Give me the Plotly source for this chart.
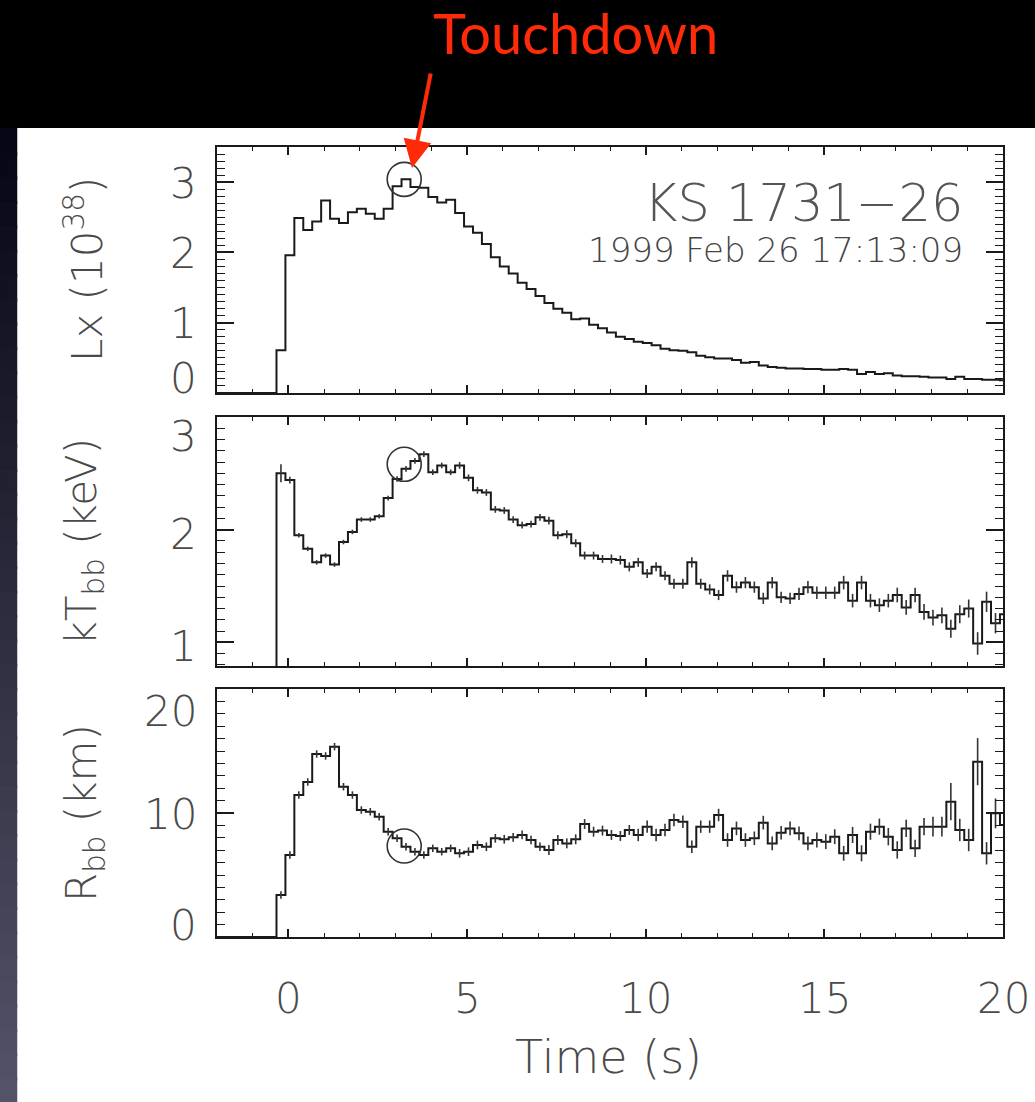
import plotly.graph_objects as go

# ---------------- data ----------------
BIN_START = -0.335   # start of first burst bin (s)
BIN_WIDTH = 0.25     # s

LX = [0.61, 1.96, 2.49, 2.32, 2.44, 2.74, 2.48, 2.42, 2.57, 2.62,
      2.55, 2.48, 2.62, 2.94, 3.04, 2.93, 2.92, 2.79, 2.71, 2.75,
      2.56, 2.37, 2.28, 2.12, 1.93, 1.80, 1.70, 1.57, 1.48, 1.38,
      1.28, 1.20, 1.14, 1.05, 1.06, 0.97, 0.92, 0.86, 0.80, 0.77,
      0.73, 0.71, 0.68, 0.63, 0.61, 0.60, 0.58, 0.53, 0.51, 0.49,
      0.49, 0.47, 0.43, 0.44, 0.39, 0.37, 0.36, 0.35, 0.35, 0.34,
      0.34, 0.33, 0.33, 0.34, 0.33, 0.27, 0.30, 0.27, 0.28, 0.25,
      0.24, 0.24, 0.23, 0.22, 0.22, 0.20, 0.23, 0.20, 0.20, 0.19,
      0.19, 0.18]

KT = [2.50, 2.44, 1.95, 1.83, 1.71, 1.77, 1.69, 1.89, 1.98, 2.09,
      2.09, 2.12, 2.28, 2.45, 2.54, 2.61, 2.67, 2.51, 2.57, 2.51,
      2.57, 2.46, 2.35, 2.33, 2.18, 2.17, 2.09, 2.04, 2.05, 2.11,
      2.08, 1.95, 1.96, 1.88, 1.77, 1.77, 1.74, 1.74, 1.73, 1.67,
      1.71, 1.61, 1.67, 1.59, 1.52, 1.52, 1.71, 1.52, 1.47, 1.42,
      1.59, 1.49, 1.53, 1.49, 1.39, 1.53, 1.40, 1.39, 1.43, 1.49,
      1.44, 1.44, 1.44, 1.53, 1.37, 1.53, 1.37, 1.33, 1.37, 1.42,
      1.31, 1.42, 1.27, 1.22, 1.24, 1.12, 1.25, 1.30, 0.99, 1.36,
      1.17, 1.25]

KT_ERR = [0.08, 0.03, 0.02, 0.02, 0.02, 0.02, 0.02, 0.02, 0.02, 0.02,
          0.02, 0.02, 0.02, 0.025, 0.025, 0.025, 0.025, 0.025, 0.025, 0.025,
          0.03, 0.03, 0.03, 0.03, 0.03, 0.03, 0.03, 0.03, 0.03, 0.03,
          0.035, 0.035, 0.035, 0.035, 0.035, 0.035, 0.035, 0.04, 0.04, 0.04,
          0.04, 0.04, 0.04, 0.04, 0.045, 0.045, 0.045, 0.045, 0.045, 0.045,
          0.05, 0.05, 0.05, 0.05, 0.05, 0.05, 0.05, 0.05, 0.055, 0.055,
          0.055, 0.055, 0.055, 0.06, 0.06, 0.06, 0.06, 0.06, 0.06, 0.065,
          0.065, 0.065, 0.07, 0.07, 0.07, 0.08, 0.08, 0.08, 0.10, 0.09,
          0.09, 0.09]

RBB = [3.39, 6.61, 11.45, 12.5, 14.76, 14.6, 15.35, 12.12, 11.45, 10.24,
       10.1, 9.7, 8.49, 7.96, 7.28, 6.88, 6.61, 7.15, 6.88, 7.15,
       6.75, 6.88, 7.42, 7.28, 7.96, 7.88, 8.04, 8.23, 7.82, 7.28,
       7.02, 7.82, 7.55, 7.88, 9.11, 8.49, 8.58, 8.23, 8.15, 8.63,
       8.23, 8.90, 8.23, 8.63, 9.44, 9.30, 7.28, 8.90, 8.90, 9.84,
       7.82, 8.76, 7.82, 7.96, 9.22, 7.55, 8.41, 8.76, 8.36, 7.55,
       7.82, 7.69, 8.09, 6.75, 8.23, 6.75, 8.49, 8.90, 8.09, 7.02,
       8.76, 7.15, 8.90, 8.90, 8.90, 10.91, 8.63, 7.82, 14.14, 6.75,
       9.97, 9.03]

RBB_ERR = [0.3, 0.3, 0.3, 0.3, 0.3, 0.3, 0.3, 0.3, 0.3, 0.3,
           0.3, 0.3, 0.3, 0.3, 0.3, 0.3, 0.3, 0.3, 0.3, 0.3,
           0.35, 0.35, 0.35, 0.35, 0.35, 0.35, 0.35, 0.35, 0.35, 0.35,
           0.4, 0.4, 0.4, 0.4, 0.4, 0.4, 0.4, 0.4, 0.4, 0.4,
           0.5, 0.5, 0.5, 0.5, 0.5, 0.5, 0.5, 0.5, 0.5, 0.5,
           0.55, 0.55, 0.55, 0.55, 0.55, 0.55, 0.55, 0.55, 0.55, 0.55,
           0.6, 0.6, 0.6, 0.6, 0.65, 0.65, 0.65, 0.65, 0.7, 0.7,
           0.7, 0.7, 0.7, 0.8, 0.8, 1.5, 0.9, 0.9, 1.9, 0.9,
           1.2, 1.0]

TOUCHDOWN_T = 3.24
TOUCHDOWN_LX = 3.04
TOUCHDOWN_KT = 2.58
TOUCHDOWN_R = 7.34

X_TICKS = [0, 5, 10, 15, 20]
LX_TICKS = [0, 1, 2, 3]
KT_TICKS = [1, 2, 3]
R_TICKS = [0, 10, 20]

# ---------------- geometry / style ----------------
W, H = 1035, 1102
FONT = "DejaVu Sans"
TXT = "#4a4a4a"
LINE = "#1a1a1a"


def px_x(p):
    return p / W


def px_y(p):
    return 1 - p / H


PLOT_X = (217, 1003)
PANELS = [(147, 393), (417, 666), (689, 937)]  # top, bottom pixels

starts = [BIN_START + BIN_WIDTH * i for i in range(len(LX))]
end_t = starts[-1] + BIN_WIDTH
centers = [s + BIN_WIDTH / 2 for s in starts]

fig = go.Figure()

# step curves
fig.add_trace(go.Scatter(x=[-2.0] + starts + [end_t], y=[0.0] + LX + [LX[-1]],
                         mode="lines", line=dict(shape="hv", color=LINE, width=2),
                         xaxis="x", yaxis="y", showlegend=False, hoverinfo="skip"))
fig.add_trace(go.Scatter(x=[starts[0]] + starts + [end_t], y=[0.5] + KT + [KT[-1]],
                         mode="lines", line=dict(shape="hv", color=LINE, width=2),
                         xaxis="x2", yaxis="y2", showlegend=False, hoverinfo="skip"))
fig.add_trace(go.Scatter(x=centers, y=KT,
                         mode="markers", marker=dict(size=1, color="rgba(0,0,0,0)"),
                         error_y=dict(type="data", array=KT_ERR, visible=True,
                                      color="#333333", thickness=1.6, width=0),
                         xaxis="x2", yaxis="y2", showlegend=False, hoverinfo="skip"))
fig.add_trace(go.Scatter(x=[-2.0] + starts + [end_t], y=[0.0] + RBB + [RBB[-1]],
                         mode="lines", line=dict(shape="hv", color=LINE, width=2),
                         xaxis="x3", yaxis="y3", showlegend=False, hoverinfo="skip"))
fig.add_trace(go.Scatter(x=centers, y=RBB,
                         mode="markers", marker=dict(size=1, color="rgba(0,0,0,0)"),
                         error_y=dict(type="data", array=RBB_ERR, visible=True,
                                      color="#333333", thickness=1.6, width=0),
                         xaxis="x3", yaxis="y3", showlegend=False, hoverinfo="skip"))


def xaxis_cfg(anchor):
    return dict(domain=[px_x(PLOT_X[0]), px_x(PLOT_X[1])], anchor=anchor,
                range=[-2, 20], showgrid=False, zeroline=False,
                showline=True, linecolor=LINE, linewidth=2, mirror="allticks",
                ticks="inside", ticklen=8, tickwidth=1.5, tickcolor=LINE,
                tick0=0, dtick=5, showticklabels=False,
                minor=dict(ticks="inside", ticklen=4, tickwidth=1.2,
                           tickcolor=LINE, dtick=1, tick0=0))


def yaxis_cfg(anchor, pan, rng, dtick, mdtick):
    return dict(domain=[px_y(pan[1]), px_y(pan[0])], anchor=anchor,
                range=rng, showgrid=False, zeroline=False,
                showline=True, linecolor=LINE, linewidth=2, mirror="allticks",
                ticks="inside", ticklen=17, tickwidth=1.5, tickcolor=LINE,
                tick0=0, dtick=dtick, showticklabels=False,
                minor=dict(ticks="inside", ticklen=8, tickwidth=1.2,
                           tickcolor=LINE, dtick=mdtick, tick0=0))


fig.update_layout(
    width=W, height=H, margin=dict(l=0, r=0, t=0, b=0),
    paper_bgcolor="black", plot_bgcolor="white",
    xaxis=xaxis_cfg("y"), yaxis=yaxis_cfg("x", PANELS[0], [0, 3.5], 1, 0.1),
    xaxis2=xaxis_cfg("y2"), yaxis2=yaxis_cfg("x2", PANELS[1], [0.79, 3.0], 1, 0.1),
    xaxis3=xaxis_cfg("y3"), yaxis3=yaxis_cfg("x3", PANELS[2], [0, 20], 10, 1),
)

shapes = []
# white slide area
shapes.append(dict(type="rect", xref="paper", yref="paper", x0=px_x(17), x1=1,
                   y0=0, y1=px_y(128), fillcolor="white", line=dict(width=0),
                   layer="below"))
# left dark gradient strip (overlapping slices to avoid seams)
n = 40
top_c = (6, 6, 20)
bot_c = (84, 82, 104)
for k in range(n):
    f = k / (n - 1)
    c = tuple(int(round(top_c[j] + (bot_c[j] - top_c[j]) * f)) for j in range(3))
    y0p = 128 + (H - 128) * k / n
    y1p = min(H, 128 + (H - 128) * (k + 1) / n + 3)
    col = "rgb(%d,%d,%d)" % c
    shapes.append(dict(type="rect", xref="paper", yref="paper", x0=0, x1=px_x(17),
                       y0=px_y(y1p), y1=px_y(y0p),
                       fillcolor=col, line=dict(width=0.5, color=col),
                       layer="below"))
# touchdown circles
for xr, yr, yv in [("x", "y", TOUCHDOWN_LX), ("x2", "y2", TOUCHDOWN_KT),
                   ("x3", "y3", TOUCHDOWN_R)]:
    shapes.append(dict(type="circle", xref=xr, yref=yr, xsizemode="pixel",
                       ysizemode="pixel", xanchor=TOUCHDOWN_T, yanchor=yv,
                       x0=-17, x1=17, y0=-17, y1=17,
                       line=dict(color="#333333", width=1.6)))
fig.update_layout(shapes=shapes)

ann = []
tick_font = dict(family=FONT, size=42, color=TXT, weight=300)

# y tick labels (with IDL-like inward shift at panel edges)
for val, shift in zip(LX_TICKS, [15, -1, -1, -1]):
    ann.append(dict(x=px_x(199), xref="paper", y=val, yref="y", text=str(val),
                    xanchor="right", yanchor="middle", yshift=shift,
                    showarrow=False, font=tick_font))
for val, shift in zip(KT_TICKS, [-4, -5, -20]):
    ann.append(dict(x=px_x(199), xref="paper", y=val, yref="y2", text=str(val),
                    xanchor="right", yanchor="middle", yshift=shift,
                    showarrow=False, font=tick_font))
for val, shift in zip(R_TICKS, [12, -1, -22]):
    ann.append(dict(x=px_x(199), xref="paper", y=val, yref="y3", text=str(val),
                    xanchor="right", yanchor="middle", yshift=shift,
                    showarrow=False, font=tick_font))
# x tick labels
for val in X_TICKS:
    ann.append(dict(x=val, xref="x3", y=px_y(998), yref="paper", text=str(val),
                    xanchor="center", yanchor="middle", showarrow=False,
                    font=tick_font))
# axis titles
ann.append(dict(x=px_x(608), xref="paper", y=px_y(1057), yref="paper",
                text="Time (s)", showarrow=False, xanchor="center",
                yanchor="middle",
                font=dict(family=FONT, size=46, color=TXT, weight=300)))
titles = ["Lx (10<sup>38</sup>)", "kT<sub>bb</sub> (keV)", "R<sub>bb</sub> (km)"]
for t, pan in zip(titles, PANELS):
    ann.append(dict(x=px_x(84), xref="paper", y=px_y((pan[0] + pan[1]) / 2),
                    yref="paper", text=t, textangle=-90, showarrow=False,
                    xanchor="center", yanchor="middle", font=tick_font))
# source labels
ann.append(dict(x=18.94, xref="x", y=2.70, yref="y", text="KS 1731\u221226",
                xanchor="right", yanchor="middle", showarrow=False,
                font=dict(family=FONT, size=51, color="#555555", weight=300)))
ann.append(dict(x=18.94, xref="x", y=2.03, yref="y", text="1999 Feb 26 17:13:09",
                xanchor="right", yanchor="middle", showarrow=False,
                font=dict(family=FONT, size=34, color="#444444", weight=300)))
# Touchdown label + arrow
ann.append(dict(x=px_x(575), xref="paper", y=px_y(33), yref="paper",
                text="Touchdown", showarrow=False, xanchor="center",
                yanchor="middle",
                font=dict(family="Lato", size=56, color="#ff2a08")))
ann.append(dict(x=px_x(412), xref="paper", y=px_y(168), yref="paper", text="",
                showarrow=True, ax=19, ay=-96, axref="pixel", ayref="pixel",
                arrowhead=2, arrowsize=1.4, arrowwidth=4, arrowcolor="#ff2a08"))
fig.update_layout(annotations=ann)

fig.write_html("out.html")
